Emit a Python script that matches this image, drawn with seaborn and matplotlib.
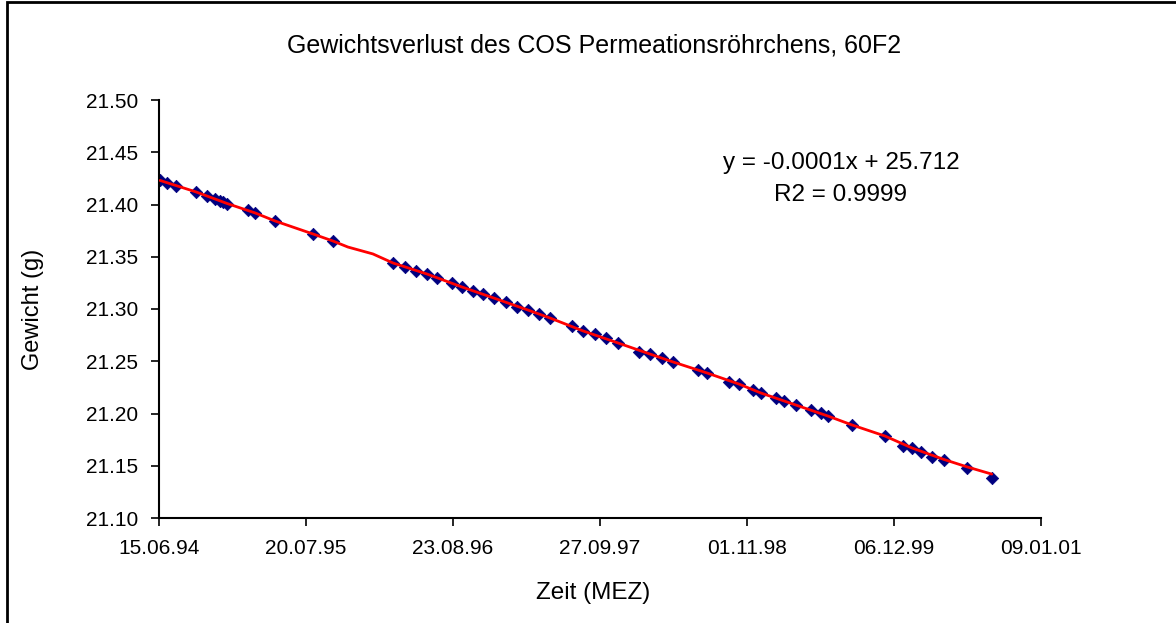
import numpy as np
import pandas as pd
import matplotlib
matplotlib.use("Agg")
import matplotlib.pyplot as plt
import seaborn as sns

# ---- data ----
base_date = "1994-06-15"
# measurement days after base date and weights (g)
meas_days = [3, 22, 46, 101, 131, 152, 166, 174, 185, 242, 261, 316, 419, 473,
             637, 669, 699, 729, 756, 797, 824, 854, 882, 911, 944, 974, 1004,
             1034, 1064, 1124, 1154, 1186, 1216, 1249, 1306, 1336, 1369, 1399,
             1467, 1491, 1551, 1578, 1616, 1638, 1679, 1701, 1733, 1774, 1801,
             1820, 1886, 1975, 2024, 2049, 2073, 2103, 2136, 2198, 2266]
meas_weight = [21.4234, 21.4206, 21.4177, 21.4120, 21.4081, 21.4053, 21.4034,
               21.4024, 21.4005, 21.3948, 21.3919, 21.3842, 21.3718, 21.3651,
               21.3440, 21.3402, 21.3364, 21.3335, 21.3297, 21.3249, 21.3211,
               21.3172, 21.3144, 21.3105, 21.3067, 21.3019, 21.2990, 21.2952,
               21.2914, 21.2837, 21.2790, 21.2761, 21.2723, 21.2675, 21.2589,
               21.2569, 21.2531, 21.2493, 21.2416, 21.2388, 21.2302, 21.2282,
               21.2225, 21.2196, 21.2148, 21.2120, 21.2081, 21.2033, 21.2005,
               21.1976, 21.1890, 21.1785, 21.1689, 21.1670, 21.1632, 21.1584,
               21.1555, 21.1478, 21.1383]
# red curve (smoothed line)
line_days = [3, 101, 185, 261, 316, 419, 473, 514, 582, 637, 729, 824, 911,
             1004, 1064, 1154, 1249, 1336, 1399, 1491, 1578, 1638, 1733, 1820,
             1886, 1975, 2049, 2136, 2198, 2266]
line_weight = [21.4230, 21.4120, 21.4010, 21.3920, 21.3842, 21.3718, 21.3651,
               21.3593, 21.3527, 21.3440, 21.3335, 21.3211, 21.3105, 21.2990,
               21.2914, 21.2790, 21.2675, 21.2569, 21.2493, 21.2388, 21.2282,
               21.2196, 21.2081, 21.1976, 21.1890, 21.1785, 21.1670, 21.1560,
               21.1490, 21.1420]
x_tick_labels = ["15.06.94", "20.07.95", "23.08.96", "27.09.97",
                 "01.11.98", "06.12.99", "09.01.01"]
y_ticks = [21.10, 21.15, 21.20, 21.25, 21.30, 21.35, 21.40, 21.45, 21.50]

title = "Gewichtsverlust des COS Permeationsröhrchens, 60F2"
eq_text = "y = -0.0001x + 25.712\nR2 = 0.9999"

# ---- build frames ----
base = pd.Timestamp(base_date)
df_pts = pd.DataFrame({"Zeit": base + pd.to_timedelta(meas_days, unit="D"),
                       "Gewicht": meas_weight})
df_line = pd.DataFrame({"Zeit": base + pd.to_timedelta(line_days, unit="D"),
                        "Gewicht": line_weight})
xticks = pd.to_datetime(x_tick_labels, format="%d.%m.%y")

sns.set_theme(style="white")
plt.rcParams["font.family"] = ["Liberation Sans", "DejaVu Sans"]
plt.rcParams["text.color"] = "black"
plt.rcParams["axes.labelcolor"] = "black"

W, H = 1176, 623
fig = plt.figure(figsize=(W / 100, H / 100), dpi=100)
L, R, T, B = 159, 1041, 100, 518
ax = fig.add_axes([L / W, 1 - B / H, (R - L) / W, (B - T) / H])

sns.scatterplot(data=df_pts, x="Zeit", y="Gewicht", ax=ax, marker="D",
                color="#000080", s=40, edgecolor="#000080", linewidth=0.5,
                zorder=2)
sns.lineplot(data=df_line, x="Zeit", y="Gewicht", ax=ax, color="#FF0000",
             linewidth=2.0, zorder=3)

ax.set_xlim(xticks[0], xticks[-1])
ax.set_ylim(y_ticks[0], y_ticks[-1])
ax.set_xticks(xticks)
ax.set_xticklabels(x_tick_labels)
ax.set_yticks(y_ticks)
ax.set_yticklabels([f"{v:.2f}" for v in y_ticks])

for s in ["top", "right"]:
    ax.spines[s].set_visible(False)
for s in ["left", "bottom"]:
    ax.spines[s].set_color("black")
    ax.spines[s].set_linewidth(1.5)
ax.tick_params(axis="both", which="major", direction="out", length=6,
               width=1.2, color="black", labelsize=15, labelcolor="black",
               bottom=True, left=True)
ax.tick_params(axis="x", pad=9)
ax.tick_params(axis="y", pad=9)
ax.grid(False)
ax.set_xlabel("Zeit (MEZ)", fontsize=17.5, va="center")
ax.set_ylabel("Gewicht (g)", fontsize=17, va="center")
ax.xaxis.set_label_coords((593 - L) / (R - L), (B - 593) / (B - T))
ax.yaxis.set_label_coords((33 - L) / (R - L), 0.5)

fig.text(594 / W, 1 - 45 / H, title, ha="center", va="center",
         fontsize=18)
fig.text(841 / W, 1 - 179 / H, eq_text, ha="center", va="center",
         fontsize=17.5, linespacing=1.55)

# outer chart border
fig.patches.append(plt.Rectangle((7 / W, -0.05), 1.2, 1 - 2 / H + 0.05,
                                 transform=fig.transFigure, fill=False,
                                 edgecolor="black", linewidth=2))

fig.savefig("out.png", dpi=100)
